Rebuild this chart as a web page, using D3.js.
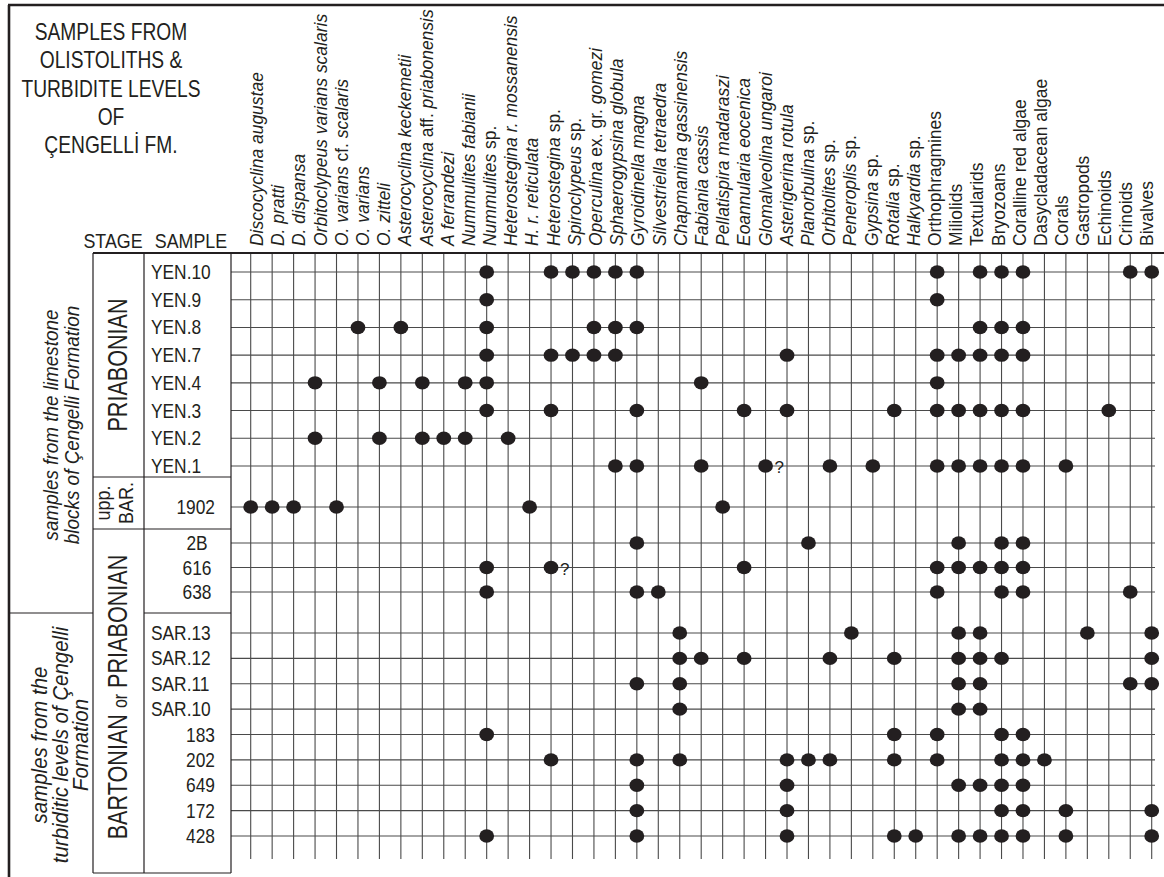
<!DOCTYPE html>
<html>
<head>
<meta charset="utf-8">
<script src="https://cdn.jsdelivr.net/npm/d3@7"></script>
<style>
  body { margin: 0; background: #fff; }
  text { font-family: "Liberation Sans", Arial, sans-serif; fill: #231f20; white-space: pre; }
</style>
</head>
<body>
<svg id="chart" width="1164" height="877"></svg>
<script>
// Taxa (column headers)
const species = [
  "Discocyclina augustae", "D. pratti", "D. dispansa", "Orbitoclypeus varians scalaris",
  "O. varians cf. scalaris", "O. varians", "O. zitteli", "Asterocyclina keckemetii",
  "Asterocyclina aff. priabonensis", "A ferrandezi", "Nummulites fabianii", "Nummulites sp.",
  "Heterostegina r. mossanensis", "H. r. reticulata", "Heterostegina sp.", "Spiroclypeus sp.",
  "Operculina ex. gr. gomezi", "Sphaerogypsina globula", "Gyroidinella magna", "Silvestriella tetraedra",
  "Chapmanina gassinensis", "Fabiania cassis", "Pellatispira madaraszi", "Eoannularia eocenica",
  "Glomalveolina ungaroi", "Asterigerina rotula", "Planorbulina sp.", "Orbitolites sp.",
  "Peneroplis sp.", "Gypsina sp.", "Rotalia sp.", "Halkyardia sp.",
  "Orthophragmines", "Miliolids", "Textularids", "Bryozoans", "Coralline red algae",
  "Dasycladacean algae", "Corals", "Gastropods", "Echinoids", "Crinoids", "Bivalves"
];
const firstInformal = 32; // from "Orthophragmines" on, names are not italic
const uprightWords = new Set(["sp.", "cf.", "aff.", "ex.", "gr."]);

// Samples, grouped by stage block
const yenSamples = ["YEN.10", "YEN.9", "YEN.8", "YEN.7", "YEN.4", "YEN.3", "YEN.2", "YEN.1"];
const barSamples = ["1902"];
const priSamples = ["2B", "616", "638"];
const turbSamples = ["SAR.13", "SAR.12", "SAR.11", "SAR.10", "183", "202", "649", "172", "428"];

// Occurrences: column numbers (1-based) of taxa present in each sample
const yenOcc = [
  [12, 15, 16, 17, 18, 19, 33, 35, 36, 37, 42, 43],
  [12, 33],
  [6, 8, 12, 17, 18, 19, 35, 36, 37],
  [12, 15, 16, 17, 18, 26, 33, 34, 35, 36, 37],
  [4, 7, 9, 11, 12, 22, 33],
  [12, 15, 19, 24, 26, 31, 33, 34, 35, 36, 37, 41],
  [4, 7, 9, 10, 11, 13],
  [18, 19, 22, 25, 28, 30, 33, 34, 35, 36, 37, 39]
];
const barOcc = [[1, 2, 3, 5, 14, 23]];
const priOcc = [
  [19, 27, 34, 36, 37],
  [12, 15, 24, 33, 34, 35, 36, 37],
  [12, 19, 20, 33, 36, 37, 42]
];
const turbOcc = [
  [21, 29, 34, 35, 40, 43],
  [21, 22, 24, 28, 31, 34, 35, 36, 43],
  [19, 21, 34, 35, 42, 43],
  [21, 34, 35],
  [12, 31, 33, 36, 37],
  [15, 19, 21, 26, 27, 28, 31, 33, 36, 37, 38],
  [19, 26, 34, 35, 36, 37],
  [19, 26, 36, 37, 39, 43],
  [12, 19, 26, 31, 32, 34, 35, 36, 37, 39, 43]
];
// questionable determinations [sample, column]
const uncertain = [["YEN.1", 25], ["616", 15]];

const titleLines = ["SAMPLES FROM", "OLISTOLITHS &", "TURBIDITE LEVELS", "OF", "ÇENGELLİ FM."];
const stageLabels = ["PRIABONIAN", ["upp.", "BAR."], "BARTONIAN or PRIABONIAN"];
const groupLabels = [
  ["samples from the limestone", "blocks of Çengelli Formation"],
  ["samples from the", "turbiditic levels of Çengelli", "Formation"]
];

// ---- layout ----
const ink = "#231f20";
const W = 1164, H = 877;
const xLeft = 9, xStage = 93, xSample = 144, xGrid = 231;
const yTop = 5, yHead = 253, yBottom = 873, yGridEnd = 859, xGridEnd = 1155;

const blocks = [
  { rows: yenSamples, occ: yenOcc, range: [272, 466], bottom: 477 },
  { rows: barSamples, occ: barOcc, range: [507, 507], bottom: 529 },
  { rows: priSamples, occ: priOcc, range: [543, 592], bottom: 613 },
  { rows: turbSamples, occ: turbOcc, range: [633, 836], bottom: yBottom }
];
blocks.forEach(b => {
  b.y = d3.scalePoint().domain(b.rows).range(b.range);
});
const rowY = s => { const b = blocks.find(b => b.rows.includes(s)); return b.y(s); };

const x = d3.scalePoint().domain(species).range([250.7, 1151.7]);
// header labels are spaced a little tighter than the grid columns
const xLabel = d3.scalePoint().domain(species).range([263, 1153]);

const svg = d3.select("#chart");

function hline(x1, x2, y, w) {
  svg.append("line").attr("x1", x1).attr("x2", x2).attr("y1", y).attr("y2", y)
    .attr("stroke", ink).attr("stroke-width", w || 1.2);
}
function vline(x0, y1, y2, w) {
  svg.append("line").attr("x1", x0).attr("x2", x0).attr("y1", y1).attr("y2", y2)
    .attr("stroke", ink).attr("stroke-width", w || 1.2);
}

// grid
const grid = svg.append("g").attr("stroke", "#4a4a4a").attr("stroke-width", 1.1);
grid.selectAll("line.v").data(species).join("line").attr("class", "v")
  .attr("x1", d => x(d)).attr("x2", d => x(d))
  .attr("y1", yHead).attr("y2", yGridEnd);
const allRows = blocks.flatMap(b => b.rows);
grid.selectAll("line.h").data(allRows).join("line").attr("class", "h")
  .attr("x1", xGrid).attr("x2", xGridEnd)
  .attr("y1", d => rowY(d)).attr("y2", d => rowY(d));

// frame
hline(xLeft - 1, W, yTop, 2.6);
vline(xLeft, yTop, H, 2.6);
hline(xStage, W, yHead, 2.2);
vline(xStage, yHead, yBottom);
vline(xSample, yHead, yBottom);
vline(xGrid, yHead, yBottom);
hline(xStage, xGrid, blocks[0].bottom);
hline(xStage, xGrid, blocks[1].bottom);
hline(xLeft, xStage, blocks[2].bottom);
hline(xSample, xGrid, blocks[2].bottom);
hline(xStage, xGrid, yBottom);

// title
svg.append("g").selectAll("text").data(titleLines).join("text")
  .attr("transform", (d, i) => `translate(111,${40 + i * 28.3}) scale(0.8,1)`)
  .attr("text-anchor", "middle").attr("font-size", 24).text(d => d);

svg.append("text").attr("transform", "translate(113,248) scale(0.85,1)")
  .attr("text-anchor", "middle").attr("font-size", 21).text("STAGE");
svg.append("text").attr("transform", "translate(191,248) scale(0.85,1)")
  .attr("text-anchor", "middle").attr("font-size", 21).text("SAMPLE");

// species headers (rotated)
svg.append("g").selectAll("text").data(species).join("text")
  .attr("transform", d => `translate(${xLabel(d)},246) rotate(-90) scale(0.92,1)`)
  .attr("font-size", 19)
  .each(function (d, i) {
    const t = d3.select(this);
    d.split(" ").forEach((w, j) => {
      t.append("tspan").text((j ? " " : "") + w)
        .attr("font-style", i >= firstInformal || uprightWords.has(w) ? "normal" : "italic");
    });
  });

// sample labels
blocks.forEach((b, bi) => {
  svg.append("g").selectAll("text").data(b.rows).join("text")
    .attr("font-size", 19.5)
    .attr("text-anchor", d => /^[A-Z]+\./.test(d) ? "start" : (bi === 2 ? "middle" : "end"))
    .attr("transform", d => {
      const tx = /^[A-Z]+\./.test(d) ? 151 : (bi === 2 ? 197 : 215);
      return `translate(${tx},${b.y(d)}) scale(0.89,1)`;
    })
    .attr("dy", "0.36em")
    .text(d => d);
});

// stage labels (rotated)
const stageCells = [[yHead, blocks[0].bottom], [blocks[0].bottom, blocks[1].bottom], [blocks[1].bottom, yBottom]];
svg.append("text")
  .attr("transform", `translate(127,${(stageCells[0][0] + stageCells[0][1]) / 2}) rotate(-90) scale(0.8,1)`)
  .attr("text-anchor", "middle").attr("font-size", 27).text(stageLabels[0]);
stageLabels[1].forEach((s, i) => {
  svg.append("text")
    .attr("transform", `translate(${110 + i * 23},${(stageCells[1][0] + stageCells[1][1]) / 2}) rotate(-90) scale(0.9,1)`)
    .attr("text-anchor", "middle").attr("font-size", 20).text(s);
});
{
  const t = svg.append("text")
    .attr("transform", `translate(127,${(stageCells[2][0] + stageCells[2][1]) / 2 - 4}) rotate(-90) scale(0.8,1)`)
    .attr("text-anchor", "middle").attr("font-size", 27);
  const parts = stageLabels[2].split(" ");
  t.append("tspan").text(parts[0] + " ");
  t.append("tspan").attr("font-size", 20).text(parts[1]);
  t.append("tspan").text(" " + parts[2]);
}

// group labels (rotated, italic)
const groupCfg = [
  { cy: 425, base: 58, step: 21, size: 21, sx: 0.9 },
  { cy: 745, base: 47, step: 20.5, size: 22, sx: 0.93 }
];
groupLabels.forEach((lines, gi) => {
  const c = groupCfg[gi];
  svg.append("g").selectAll("text").data(lines).join("text")
    .attr("transform", (d, i) => `translate(${c.base + i * c.step},${c.cy}) rotate(-90) scale(${c.sx},1)`)
    .attr("text-anchor", "middle").attr("font-size", c.size).attr("font-style", "italic")
    .text(d => d);
});

// occurrence dots
const dots = blocks.flatMap(b => b.rows.flatMap((s, i) => b.occ[i].map(c => ({ sample: s, taxon: species[c - 1] }))));
svg.append("g").selectAll("ellipse").data(dots).join("ellipse")
  .attr("cx", d => x(d.taxon)).attr("cy", d => rowY(d.sample))
  .attr("rx", 7.4).attr("ry", 6.7).attr("fill", ink);

svg.append("g").selectAll("text").data(uncertain).join("text")
  .attr("x", d => x(species[d[1] - 1]) + 9).attr("y", d => rowY(d[0]) + 7)
  .attr("font-size", 17).text("?");
</script>
</body>
</html>
